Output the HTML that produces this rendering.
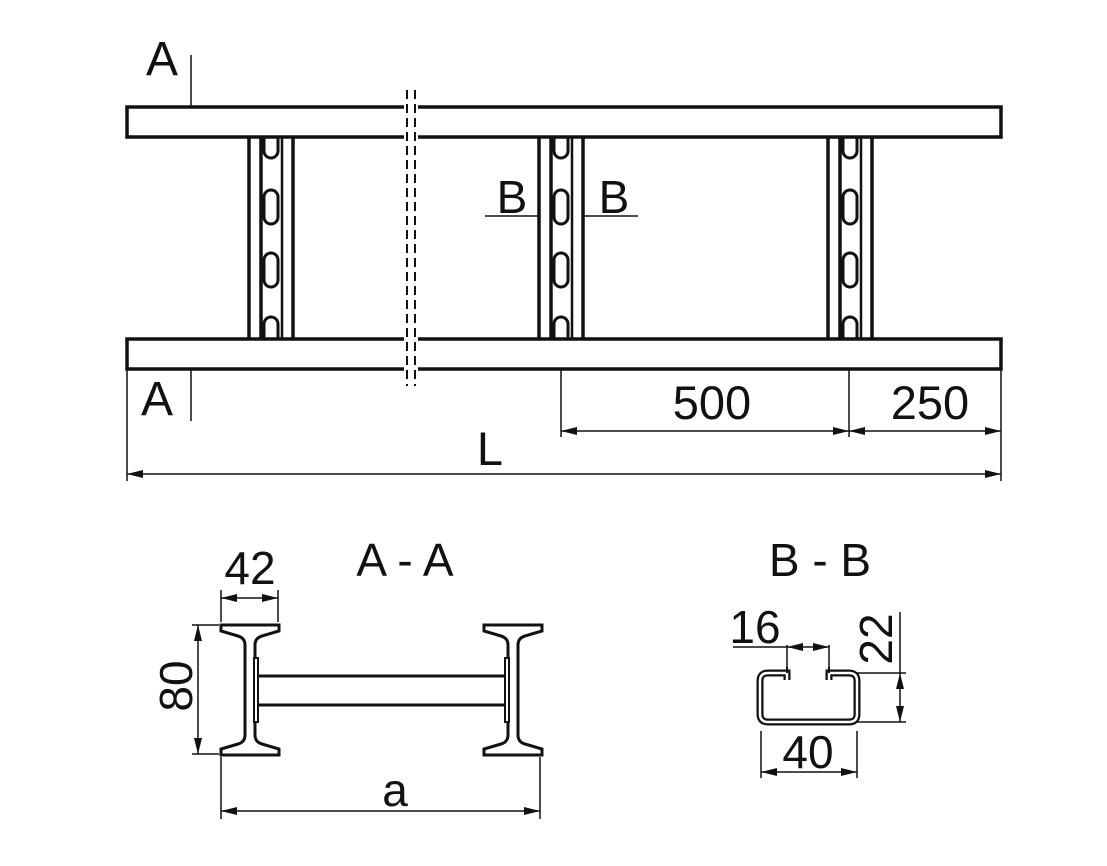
<!DOCTYPE html>
<html><head><meta charset="utf-8"><style>
html,body{margin:0;padding:0;background:#fff;}
svg{display:block;}
text{font-family:"Liberation Sans",Arial,sans-serif;fill:#111;}
</style></head><body>
<svg width="1107" height="866" viewBox="0 0 1107 866" xmlns="http://www.w3.org/2000/svg">
<defs>
<marker id="ar" markerWidth="16" markerHeight="8" refX="16" refY="4" orient="auto" markerUnits="userSpaceOnUse">
<path d="M0,0 L16,4 L0,8 Z" fill="#111"/></marker>
<marker id="al" markerWidth="16" markerHeight="8" refX="0" refY="4" orient="auto" markerUnits="userSpaceOnUse">
<path d="M16,0 L0,4 L16,8 Z" fill="#111"/></marker>
<g id="rung" stroke="#111" fill="none">
<line x1="0" y1="137" x2="0" y2="339" stroke-width="3.5"/>
<line x1="12" y1="137" x2="12" y2="339" stroke-width="3.5"/>
<line x1="33" y1="137" x2="33" y2="339" stroke-width="2.5"/>
<line x1="44" y1="137" x2="44" y2="339" stroke-width="3.5"/>
<path d="M15,138 V151 A7,7 0 0 0 29,151 V138" stroke-width="3"/>
<rect x="15" y="190" width="14" height="34" rx="7" stroke-width="3"/>
<rect x="15" y="253" width="14" height="34" rx="7" stroke-width="3"/>
<path d="M15,339 V324 A7,7 0 0 1 29,324 V339" stroke-width="3"/>
</g>
</defs>

<rect x="127" y="107" width="874" height="30" fill="#fff" stroke="#111" stroke-width="3.5"/>
<rect x="127" y="339" width="874" height="30" fill="#fff" stroke="#111" stroke-width="3.5"/>
<use href="#rung" x="249"/>
<use href="#rung" x="539"/>
<use href="#rung" x="828"/>
<rect x="404" y="90" width="14" height="296" fill="#fff"/>
<g stroke="#111" stroke-width="2" stroke-dasharray="9,5">
<line x1="407" y1="90" x2="407" y2="386"/>
<line x1="415" y1="90" x2="415" y2="386"/>
</g>

<g stroke="#111" stroke-width="1.5">
<line x1="191" y1="55" x2="191" y2="107"/>
<line x1="191" y1="369" x2="191" y2="421"/>
<line x1="485" y1="216" x2="539" y2="216"/>
<line x1="583" y1="216" x2="638" y2="216"/>
</g>
<text x="162" y="75" font-size="48" text-anchor="middle">A</text>
<text x="157" y="415" font-size="48" text-anchor="middle">A</text>
<text x="512" y="213" font-size="46" text-anchor="middle">B</text>
<text x="614" y="213" font-size="46" text-anchor="middle">B</text>

<g stroke="#111" stroke-width="1.5">
<line x1="561" y1="369" x2="561" y2="437"/>
<line x1="849" y1="369" x2="849" y2="437"/>
<line x1="1001" y1="369" x2="1001" y2="481"/>
<line x1="127" y1="369" x2="127" y2="481"/>
<line x1="561" y1="431" x2="849" y2="431" marker-start="url(#al)" marker-end="url(#ar)"/>
<line x1="849" y1="431" x2="1001" y2="431" marker-start="url(#al)" marker-end="url(#ar)"/>
<line x1="127" y1="474" x2="1001" y2="474" marker-start="url(#al)" marker-end="url(#ar)"/>
</g>
<text x="712" y="419" font-size="47" text-anchor="middle">500</text>
<text x="930" y="419" font-size="47" text-anchor="middle">250</text>
<text x="490" y="465" font-size="47" text-anchor="middle">L</text>

<text x="405" y="576" font-size="46" text-anchor="middle">A - A</text>
<text x="250" y="584" font-size="46" text-anchor="middle">42</text>
<g stroke="#111" stroke-width="3" fill="#fff">
<rect x="257" y="676" width="249" height="29"/>
<path d="M221,625 H279 V631 L262,636 Q255,638 255,645 V735 Q255,742 262,744 L279,749 V755 H221 V749 L238,744 Q245,742 245,735 V645 Q245,638 238,636 L221,631 Z"/>
<rect x="254" y="658" width="4" height="64" stroke-width="2"/>
<path d="M484,625 H542 V631 L525,636 Q518,638 518,645 V735 Q518,742 525,744 L542,749 V755 H484 V749 L501,744 Q508,742 508,735 V645 Q508,638 501,636 L484,631 Z"/>
<rect x="505" y="658" width="4" height="64" stroke-width="2"/>
</g>
<g stroke="#111" stroke-width="1.5">
<line x1="221" y1="590" x2="221" y2="622"/>
<line x1="278" y1="590" x2="278" y2="622"/>
<line x1="221" y1="598" x2="278" y2="598" marker-start="url(#al)" marker-end="url(#ar)"/>
<line x1="192" y1="625" x2="219" y2="625"/>
<line x1="192" y1="754" x2="219" y2="754"/>
<line x1="198" y1="625" x2="198" y2="754" marker-start="url(#al)" marker-end="url(#ar)"/>
<line x1="221" y1="757" x2="221" y2="819"/>
<line x1="540" y1="757" x2="540" y2="819"/>
<line x1="221" y1="811" x2="540" y2="811" marker-start="url(#al)" marker-end="url(#ar)"/>
</g>
<text transform="translate(192,686) rotate(-90)" font-size="46" text-anchor="middle">80</text>
<text x="395" y="806" font-size="46" text-anchor="middle">a</text>

<text x="820" y="576" font-size="46" text-anchor="middle">B - B</text>
<g stroke="#111" fill="none">
<path d="M787,680 V673 H768 Q760,673 760,681 V714 Q760,722 768,722 H849 Q857,722 857,714 V681 Q857,673 849,673 H829 V680" stroke-width="7"/>
<path d="M787,680 V673 H768 Q760,673 760,681 V714 Q760,722 768,722 H849 Q857,722 857,714 V681 Q857,673 849,673 H829 V680" stroke="#fff" stroke-width="2.5"/>
<path d="M787,667 V673 M829,667 V673" stroke-width="2"/>
</g>
<g stroke="#111" stroke-width="1.5">
<line x1="733" y1="647" x2="787" y2="647"/>
<line x1="787" y1="645" x2="787" y2="668"/>
<line x1="829" y1="645" x2="829" y2="668"/>
<line x1="787" y1="647" x2="829" y2="647" marker-start="url(#al)" marker-end="url(#ar)"/>
<line x1="857" y1="673" x2="906" y2="673"/>
<line x1="857" y1="722" x2="906" y2="722"/>
<line x1="900" y1="612" x2="900" y2="673"/>
<line x1="900" y1="673" x2="900" y2="722" marker-start="url(#al)" marker-end="url(#ar)"/>
<line x1="761" y1="731" x2="761" y2="778"/>
<line x1="857" y1="731" x2="857" y2="778"/>
<line x1="761" y1="772" x2="857" y2="772" marker-start="url(#al)" marker-end="url(#ar)"/>
</g>
<text x="755" y="643" font-size="46" text-anchor="middle">16</text>
<text transform="translate(892,639) rotate(-90)" font-size="46" text-anchor="middle">22</text>
<text x="808" y="768" font-size="46" text-anchor="middle">40</text>
</svg>
</body></html>
